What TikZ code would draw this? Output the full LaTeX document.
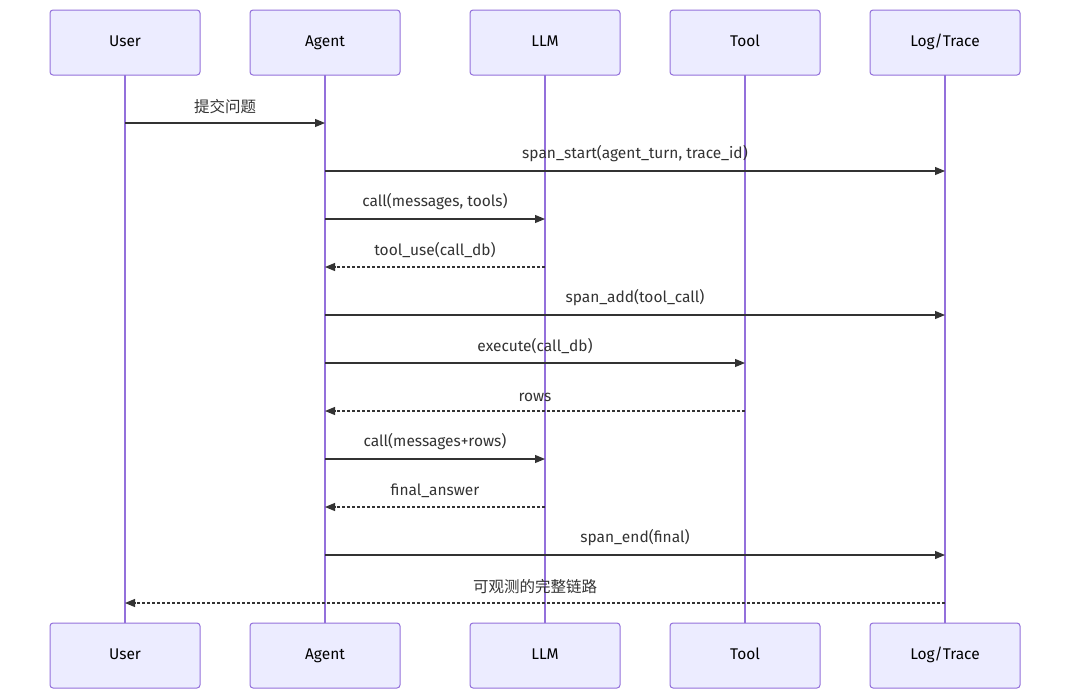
\documentclass[tikz,border=0pt]{standalone}
\usepackage{fontspec}
\setmainfont{Fira Sans}
\newfontfamily\cjk{Noto Sans CJK SC}
\usetikzlibrary{arrows.meta, calc}

\definecolor{boxfill}{HTML}{ECECFF}
\definecolor{boxline}{HTML}{9370DB}
\definecolor{msgline}{HTML}{333333}

\tikzset{
    actor/.style={draw=boxline, fill=boxfill, rounded corners=3pt,
        line width=1pt, minimum width=150pt, minimum height=65pt,
        inner sep=0pt, text height=11pt, text depth=3pt,
        font=\fontsize{15.5}{18}\selectfont},
    life/.style={draw=boxline, line width=1.3pt},
    msg/.style={draw=msgline, line width=1.1pt,
        -{Triangle[length=10pt,width=8pt]}},
    reply/.style={msg, dash pattern=on 3pt off 2pt},
    lbl/.style={font=\fontsize{15.5}{18}\selectfont, text=msgline, above=5pt}
}

\begin{document}
\begin{tikzpicture}[x=1pt, y=-1pt]

    % frame
    \useasboundingbox (0,0) rectangle (1070,699);

    % participants and lifelines
    \foreach \name/\txt/\x in {U/User/125, A/Agent/325, L/LLM/545,
                               T/Tool/745, G/Log\slash Trace/945} {
        \draw[life] (\x,75) -- (\x,623);
        \node[actor] (\name-top) at (\x,42.5) {\txt};
        \node[actor] (\name-bot) at (\x,655.5) {\txt};
        \foreach \r in {1,...,11}
            \coordinate (\name-\r) at (\x,{75+48*\r});
    }

    % messages
    \draw[msg] (U-1) -- node[lbl] {\cjk 提交问题} (A-1);
    \draw[msg] (A-2) -- node[lbl] {span\_start(agent\_turn, trace\_id)} (G-2);
    \draw[msg] (A-3) -- node[lbl] {call(messages, tools)} (L-3);
    \draw[reply] (L-4) -- node[lbl] {tool\_use(call\_db)} (A-4);
    \draw[msg] (A-5) -- node[lbl] {span\_add(tool\_call)} (G-5);
    \draw[msg] (A-6) -- node[lbl] {execute(call\_db)} (T-6);
    \draw[reply] (T-7) -- node[lbl] {rows} (A-7);
    \draw[msg] (A-8) -- node[lbl] {call(messages+rows)} (L-8);
    \draw[reply] (L-9) -- node[lbl] {final\_answer} (A-9);
    \draw[msg] (A-10) -- node[lbl] {span\_end(final)} (G-10);
    \draw[reply] (G-11) -- node[lbl] {\cjk 可观测的完整链路} (U-11);

\end{tikzpicture}
\end{document}
